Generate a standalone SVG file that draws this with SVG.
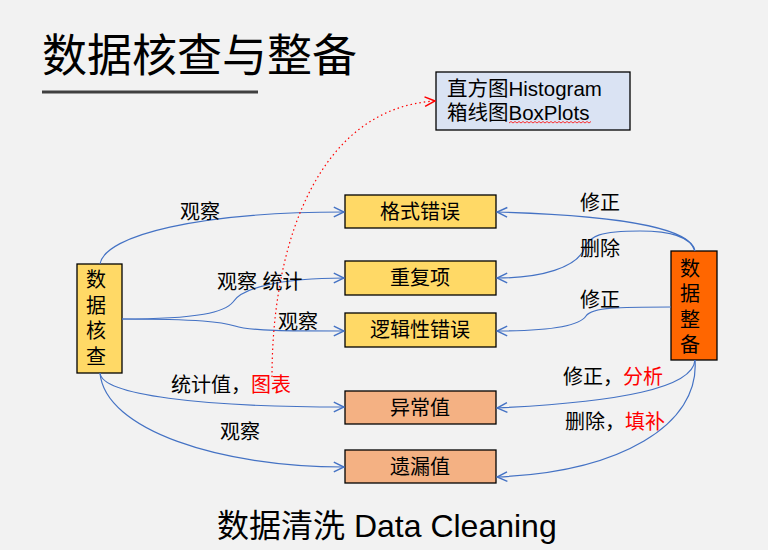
<svg xmlns="http://www.w3.org/2000/svg" width="768" height="550" viewBox="0 0 768 550">
<style>
text{font-family:"Liberation Sans","Noto Sans CJK SC",sans-serif;fill:#000}
.box{stroke:#000;stroke-width:1.3}
.y{fill:#ffd966}.p{fill:#f4b183}.o{fill:#ff6600}.b{fill:#dae3f3}
.nt{font-size:20px;text-anchor:middle}
.lb{font-size:20px}
.red{fill:#ff0000}
.c{fill:none;stroke:#4472c4;stroke-width:1.2;marker-end:url(#ah)}
</style>
<defs>
<marker id="ah" markerUnits="userSpaceOnUse" markerWidth="12" markerHeight="12" viewBox="0 0 10 10" refX="9.5" refY="5" orient="auto">
<path d="M1,1 L9.5,5 L1,9" fill="none" stroke="#4472c4" stroke-width="1.2"/>
</marker>
<marker id="ahr" markerUnits="userSpaceOnUse" markerWidth="12" markerHeight="12" viewBox="0 0 10 10" refX="9.5" refY="5" orient="auto">
<path d="M1,1 L9.5,5 L1,9" fill="none" stroke="#ff0000" stroke-width="1.2"/>
</marker>
</defs>
<rect width="768" height="550" fill="#f2f2f2"/>
<text x="42" y="72" style="font-size:45px">数据核查与整备</text>
<rect x="42" y="90.5" width="216" height="3" fill="#404040"/>

<g id="note">
<rect class="box b" x="436" y="72" width="194" height="58"/>
<text x="447" y="96" style="font-size:20.5px">直方图Histogram</text>
<text x="447" y="120" style="font-size:20.5px">箱线图BoxPlots</text>
<path d="M509,123 l2,-1.5 l2,1.5 l2,-1.5 l2,1.5 l2,-1.5 l2,1.5 l2,-1.5 l2,1.5 l2,-1.5 l2,1.5 l2,-1.5 l2,1.5 l2,-1.5 l2,1.5 l2,-1.5 l2,1.5 l2,-1.5 l2,1.5 l2,-1.5 l2,1.5 l2,-1.5 l2,1.5 l2,-1.5 l2,1.5 l2,-1.5 l2,1.5 l2,-1.5 l2,1.5 l2,-1.5 l2,1.5 l2,-1.5 l2,1.5 l2,-1.5 l2,1.5 l2,-1.5 l2,1.5 l2,-1.5 l2,1.5 l2,-1.5 l2,1.5 l2,-1.5" fill="none" stroke="#ff0000" stroke-width="0.8"/>
</g>

<g id="check">
<rect class="box y" x="77" y="264" width="45" height="109"/>
<text x="86" y="287" style="font-size:20px">数</text>
<text x="86" y="313" style="font-size:20px">据</text>
<text x="86" y="338" style="font-size:20px">核</text>
<text x="86" y="364" style="font-size:20px">查</text>
</g>
<g id="prep">
<rect class="box o" x="671" y="251" width="46" height="109"/>
<text x="680" y="276" style="font-size:20px">数</text>
<text x="680" y="301" style="font-size:20px">据</text>
<text x="680" y="327" style="font-size:20px">整</text>
<text x="680" y="352" style="font-size:20px">备</text>
</g>
<g id="format">
<rect class="box y" x="345" y="195" width="151" height="33"/>
<text class="nt" x="420" y="219">格式错误</text>
</g>
<g id="dup">
<rect class="box y" x="345" y="261" width="151" height="34"/>
<text class="nt" x="420" y="285">重复项</text>
</g>
<g id="logic">
<rect class="box y" x="345" y="313" width="151" height="34"/>
<text class="nt" x="420" y="337">逻辑性错误</text>
</g>
<g id="outlier">
<rect class="box p" x="345" y="391" width="151" height="33"/>
<text class="nt" x="420" y="415">异常值</text>
</g>
<g id="missing">
<rect class="box p" x="345" y="450" width="151" height="33"/>
<text class="nt" x="420" y="474">遗漏值</text>
</g>

<g id="connectors">
<path class="c" d="M100,264 C105,235 200,212 344,212"/>
<path class="c" d="M122,319 C200,319 225,312 233,302 C242,288 280,278 344,278"/>
<path class="c" d="M122,319 C200,319 222,322 235,326 C250,331 290,331 344,331"/>
<path class="c" d="M100,373 C102,395 200,407 344,407"/>
<path class="c" d="M100,373 C105,430 220,467 344,467"/>
<path class="c" d="M695,251 C692,232 640,216 497,212"/>
<path class="c" d="M695,251 C690,236 670,231 640,231 C600,231 590,236 585,247 C578,268 540,278 497,278"/>
<path class="c" d="M671,307 C620,307 592,307 586,316 C578,328 540,331 497,331"/>
<path class="c" d="M695,360 C693,388 620,402 497,408"/>
<path class="c" d="M695,360 C700,425 620,472 497,477"/>
<path d="M272,377 C272,240 320,108 435,101" fill="none" stroke="#ff0000" stroke-width="1.2" stroke-dasharray="1.5,3" marker-end="url(#ahr)"/>
</g>

<g id="labels">
<text class="lb" x="180" y="219">观察</text>
<text class="lb" x="217" y="289">观察 统计</text>
<text class="lb" x="278" y="329">观察</text>
<text class="lb" x="171" y="392">统计值，<tspan class="red">图表</tspan></text>
<text class="lb" x="220" y="439">观察</text>
<text class="lb" x="580" y="210">修正</text>
<text class="lb" x="580" y="256">删除</text>
<text class="lb" x="580" y="307">修正</text>
<text class="lb" x="563" y="384">修正，<tspan class="red">分析</tspan></text>
<text class="lb" x="565" y="429">删除，<tspan class="red">填补</tspan></text>
</g>
<text x="217" y="537" style="font-size:32px">数据清洗 Data Cleaning</text>
</svg>
